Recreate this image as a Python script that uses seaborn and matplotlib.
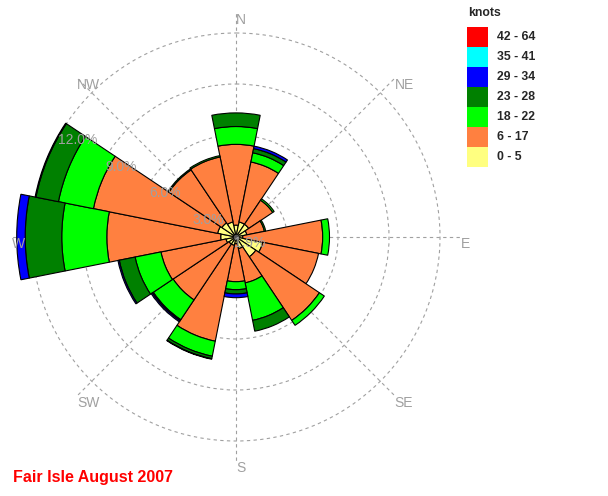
import numpy as np
import matplotlib
matplotlib.use("Agg")
import matplotlib.pyplot as plt
import seaborn as sns

# wind directions and speed classes (knots)
directions = ['N', 'NNE', 'NE', 'ENE', 'E', 'ESE', 'SE', 'SSE',
              'S', 'SSW', 'SW', 'WSW', 'W', 'WNW', 'NW', 'NNW']
speed_bins = ['0 - 5', '6 - 17', '18 - 22', '23 - 28', '29 - 34', '35 - 41', '42 - 64']
bin_colors = ['#FFFF80', '#FF8040', '#00FF00', '#008000', '#0000FF', '#00FFFF', '#FF0000']

# frequency (%) per direction for each speed class
freq_0_5 = [0.7, 0.9, 0.9, 0.65, 0.4, 1.6, 1.4, 0.7, 0.4, 0.5, 0.5, 0.6, 0.9, 1.1, 1.0, 0.9]
freq_6_17 = [4.75, 3.6, 1.7, 1.05, 4.7, 3.35, 4.5, 2.05, 2.23, 5.75, 3.95, 3.9, 6.7, 7.45, 3.75, 3.9]
freq_18_22 = [1.05, 0.55, 0.1, 0.08, 0.4, 0.0, 0.35, 2.25, 0.47, 0.9, 1.4, 1.55, 2.65, 2.1, 0.07, 0.08]
freq_23_28 = [0.8, 0.25, 0, 0, 0, 0, 0, 0.65, 0.25, 0.15, 0.07, 0.95, 2.15, 1.35, 0, 0]
freq_29_34 = [0, 0.15, 0, 0, 0, 0, 0, 0, 0.22, 0.03, 0.08, 0.08, 0.5, 0.05, 0, 0]
freq_35_41 = [0] * 16
freq_42_64 = [0] * 16
calm_pct = 1.9

ring_ticks = [3, 6, 9, 12]
compass_labels = ['N', 'NE', 'E', 'SE', 'S', 'SW', 'W', 'NW']
title = "Fair Isle August 2007"

sns.set_style("white")
plt.rcParams['font.family'] = ['Liberation Sans', 'DejaVu Sans']
palette = sns.color_palette(bin_colors)

W, H = 608, 496
fig = plt.figure(figsize=(W / 100, H / 100), dpi=100)

# polar axes: centre at (236, 237) px, 17 px per 1 %
cx, cy, px_per_pct = 236, 237, 17.0
rmax = 13.2
rad = rmax * px_per_pct
ax = fig.add_axes([(cx - rad) / W, (H - cy - rad) / H, 2 * rad / W, 2 * rad / H],
                  projection='polar')
ax.set_theta_zero_location('N')
ax.set_theta_direction(-1)
ax.set_ylim(0, rmax)

theta = np.radians(np.arange(16) * 22.5)
width = 2 * np.pi / 16
series = [freq_0_5, freq_6_17, freq_18_22, freq_23_28, freq_29_34, freq_35_41, freq_42_64]
bottom = np.zeros(16)
for vals, col in zip(series, palette):
    vals = np.asarray(vals, dtype=float)
    m = vals > 0
    if m.any():
        ax.bar(theta[m], vals[m], width=width, bottom=bottom[m], color=col,
               edgecolor='black', linewidth=0.8, align='center')
    bottom += vals

grid_col = '#A0A0A0'
ax.set_xticks(np.radians(np.arange(0, 360, 45)))
ax.set_xticklabels([])
ax.set_yticks(ring_ticks)
ax.set_yticklabels([])
ax.grid(True, color=grid_col, linestyle=(0, (3, 3)), linewidth=0.8)
ax.spines['polar'].set_visible(False)
ax.set_facecolor('none')

# compass labels at the end of the radial lines
for i, lab in enumerate(compass_labels):
    ax.text(np.radians(i * 45), rmax, lab, ha='left', va='top',
            fontsize=10, color=grid_col, clip_on=False)

# ring labels
for r in ring_ticks:
    ax.text(np.radians(301.5), r - 1.1, f"{r:.1f}%", ha='center', va='center',
            fontsize=10, color=grid_col)

# calms
ax.plot([0], [0], 'o', color='#555555', markersize=3)
fig.text((cx - 2) / W, 1 - 243 / H, f"{calm_pct}%", ha='left', va='center',
         fontsize=10, color=grid_col)

# legend
fig.text(468 / W, 1 - 13 / H, 'knots', fontsize=8.8, fontweight='bold',
         ha='left', va='center')
box_top, box_h = 27, 20
for k, (lab, col) in enumerate(zip(speed_bins[::-1], list(palette)[::-1])):
    y0 = box_top + k * box_h
    fig.patches.append(plt.Rectangle((467 / W, 1 - (y0 + box_h) / H), 21 / W, box_h / H,
                                     transform=fig.transFigure, facecolor=col,
                                     edgecolor='none'))
    fig.text(497 / W, 1 - (y0 + box_h / 2) / H, lab, fontsize=8.8, fontweight='bold',
             ha='left', va='center')

fig.text(13 / W, 1 - 482 / H, title, color='red', fontsize=11.5, fontweight='bold',
         ha='left', va='baseline')

fig.savefig("out.png", dpi=100, facecolor='white')
